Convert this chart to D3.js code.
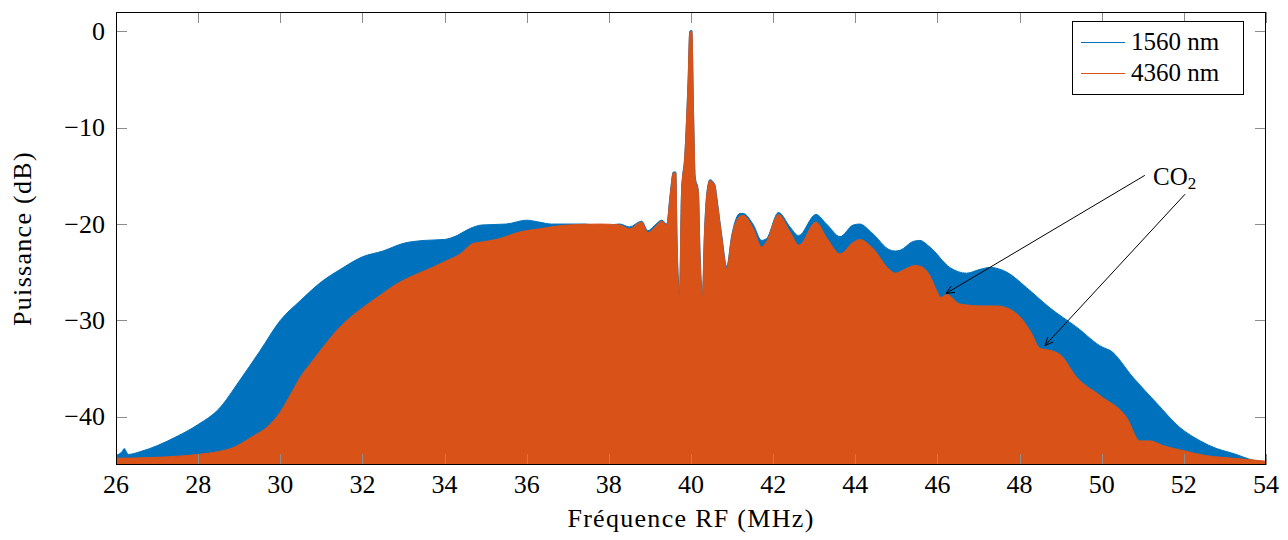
<!DOCTYPE html>
<html>
<head>
<meta charset="utf-8">
<script src="https://cdn.jsdelivr.net/npm/d3@7"></script>
<style>
  html, body { margin: 0; padding: 0; background: #fff; }
  svg { display: block; }
</style>
</head>
<body>
<svg id="chart" width="1288" height="540"></svg>
<script>
// ---- Data (upper envelopes) ----
const seriesNames = ["1560 nm", "4360 nm"];
const seriesColors = ["#0072BD", "#D95319"];

const freq1560 = [26.0, 26.15, 26.2, 26.3, 26.6, 27.0, 27.5, 28.0, 28.5, 29.0, 29.5, 30.0, 30.5, 31.0, 31.5, 32.0, 32.5, 33.0, 33.5, 34.0, 34.3, 34.6, 34.9, 35.5, 36.0, 36.3, 36.6, 37.4, 37.8,
  38.27, 38.5, 38.8, 38.95, 39.1, 39.29, 39.41, 39.49, 39.57, 39.63, 39.66, 39.72, 39.77, 39.85, 39.93, 39.97, 40.02, 40.06, 40.1, 40.18, 40.22, 40.28, 40.32, 40.38, 40.46, 40.58, 40.63, 40.75, 40.87, 40.99,
  41.19, 41.27, 41.52, 41.72, 41.84, 42.13, 42.41, 42.62, 43.04, 43.3, 43.63, 43.95, 44.11, 44.4, 44.85, 44.97, 45.1, 45.41, 45.57, 45.82, 46.3, 46.71, 47.04, 47.28, 47.69, 48.17, 48.74, 49.39, 50.03, 50.2, 50.76, 51.34, 51.9, 52.4, 52.8, 53.2, 53.69, 54.0];
const power1560 = [-44.0, -43.6, -43.3, -43.9, -43.6, -43.0, -42.0, -40.8, -39.2, -36.3, -33.2, -30.0, -27.9, -26.0, -24.6, -23.4, -22.8, -22.0, -21.7, -21.6, -21.2, -20.5, -20.1, -20.0, -19.6, -19.8, -20.0, -20.0, -20.2,
  -20.0, -20.3, -19.7, -20.7, -20.2, -19.6, -20.0, -17.0, -14.6, -14.6, -21.5, -27.0, -16.6, -12.8, -5.0, 0.0, 0.1, -8.0, -15.0, -16.6, -23.0, -27.2, -21.8, -17.0, -15.4, -15.9, -17.3, -21.2, -24.4, -21.2,
  -18.9, -18.9, -20.1, -21.7, -21.5, -18.8, -20.3, -21.2, -19.0, -20.0, -21.3, -20.1, -20.0, -20.9, -22.7, -22.8, -22.7, -21.8, -21.7, -22.4, -24.5, -25.1, -24.7, -24.5, -25.0, -26.6, -28.7, -30.7, -32.8, -33.1, -35.9, -38.6, -41.1, -42.5, -43.3, -43.8, -44.5, -44.7];

const freq4360 = [26.0, 27.0, 28.0, 28.5, 28.85, 29.34, 29.67, 30.0, 30.3, 30.5, 30.75, 31.0, 31.3, 31.7, 32.0, 32.43, 32.8, 33.16, 33.7, 34.0, 34.38, 34.7, 35.0, 35.35, 35.76, 36.3, 37.0, 37.8,
  38.27, 38.5, 38.8, 38.95, 39.1, 39.29, 39.41, 39.49, 39.57, 39.63, 39.66, 39.72, 39.77, 39.85, 39.93, 39.97, 40.02, 40.06, 40.1, 40.18, 40.22, 40.28, 40.32, 40.38, 40.46, 40.58, 40.63, 40.75, 40.87, 40.99,
  41.19, 41.27, 41.52, 41.72, 41.84, 42.13, 42.41, 42.63, 43.04, 43.3, 43.63, 43.95, 44.11, 44.4, 44.85, 44.97, 45.2, 45.45, 45.6, 45.82, 45.98, 46.08, 46.23, 46.55, 47.1, 47.45, 47.93, 48.26, 48.5, 48.6, 48.74, 49.0, 49.39, 49.96, 50.61, 50.93, 51.18, 51.5, 51.98, 52.5, 53.2, 54.0];
const power4360 = [-44.3, -44.2, -43.9, -43.6, -43.2, -42.0, -41.1, -39.5, -37.3, -35.8, -34.4, -33.0, -31.4, -29.7, -28.7, -27.4, -26.3, -25.5, -24.5, -23.9, -23.1, -22.0, -21.8, -21.5, -20.9, -20.5, -20.1, -20.0,
  -20.1, -20.5, -19.8, -20.9, -20.4, -19.7, -20.1, -17.2, -14.7, -14.7, -22.0, -27.6, -16.8, -12.9, -5.1, -0.1, 0.0, -8.2, -15.2, -16.8, -23.5, -27.6, -22.0, -17.2, -15.5, -16.0, -17.5, -21.4, -24.6, -21.4,
  -19.2, -19.1, -20.5, -22.4, -21.8, -19.0, -20.8, -22.2, -19.8, -21.4, -23.1, -21.9, -21.6, -22.4, -24.8, -25.1, -24.7, -24.3, -24.4, -25.4, -26.9, -27.6, -27.3, -28.3, -28.5, -28.5, -29.3, -31.1, -32.9, -33.0, -33.1, -33.6, -35.9, -37.8, -40.1, -42.5, -42.5, -43.0, -43.5, -44.0, -44.3, -44.6];

const xTicks = [26, 28, 30, 32, 34, 36, 38, 40, 42, 44, 46, 48, 50, 52, 54];
const yTicks = [0, -10, -20, -30, -40];
const xLabel = "Fréquence RF (MHz)";
const yLabel = "Puissance (dB)";

// annotation: label position and arrow tips in data units
const annotText = ["CO", "2"];
const annotFrom = [[51.05, -14.95], [52.03, -16.9]];
const annotTo   = [[46.21, -27.2], [48.62, -32.6]];

// ---- Layout ----
const FONT = "'Liberation Serif', 'DejaVu Serif', serif";
const svg = d3.select("#chart").attr("font-family", FONT);
const L = 116, R = 1266, T = 12, B = 465;
const x = d3.scaleLinear().domain([26, 54]).range([L, R]);
const y = d3.scaleLinear().domain([-45, 2]).range([B, T]);

svg.append("defs").append("clipPath").attr("id", "clip")
  .append("rect").attr("x", L).attr("y", T).attr("width", R - L).attr("height", B - T);

const area = d3.area()
  .x(d => x(d[0]))
  .y0(y(-45))
  .y1(d => y(d[1]))
  .curve(d3.curveMonotoneX);

const s1 = freq1560.map((f, i) => [f, power1560[i]]);
const s2 = freq4360.map((f, i) => [f, power4360[i]]);

const g = svg.append("g").attr("clip-path", "url(#clip)");
g.append("path").datum(s1).attr("d", area).attr("fill", seriesColors[0])
  .attr("stroke", seriesColors[0]).attr("stroke-width", 1);
g.append("path").datum(s2).attr("d", area).attr("fill", seriesColors[1])
  .attr("stroke", seriesColors[1]).attr("stroke-width", 1);

// ---- Ticks (inward, all four sides) ----
const tickLen = 11, tickColor = "#8c8c8c";
const tg = svg.append("g").attr("stroke", tickColor).attr("stroke-width", 1);
xTicks.forEach(t => {
  const px = Math.round(x(t)) + 0.5;
  tg.append("line").attr("x1", px).attr("x2", px).attr("y1", B).attr("y2", B - tickLen);
  tg.append("line").attr("x1", px).attr("x2", px).attr("y1", T).attr("y2", T + tickLen);
});
yTicks.forEach(t => {
  const py = Math.round(y(t)) + 0.5;
  tg.append("line").attr("x1", L).attr("x2", L + tickLen).attr("y1", py).attr("y2", py);
  tg.append("line").attr("x1", R).attr("x2", R - tickLen).attr("y1", py).attr("y2", py);
});

// frame
svg.append("rect").attr("x", L + 0.5).attr("y", T + 0.5).attr("width", R - L - 1).attr("height", B - T - 1)
  .attr("fill", "none").attr("stroke", "#000").attr("stroke-width", 1);

// tick labels
const fs = 26;
xTicks.forEach(t => {
  svg.append("text").attr("x", x(t)).attr("y", 493).attr("text-anchor", "middle")
    .attr("font-size", fs).attr("fill", "#000").text(t);
});
yTicks.forEach(t => {
  svg.append("text").attr("x", 105).attr("y", y(t) + 8.5).attr("text-anchor", "end")
    .attr("font-size", fs).attr("fill", "#000").text(t < 0 ? "\u2212" + Math.abs(t) : t);
});

// axis labels
svg.append("text").attr("x", (L + R) / 2).attr("y", 527).attr("text-anchor", "middle")
  .attr("font-size", fs).attr("letter-spacing", 1.3).attr("fill", "#000").text(xLabel);
svg.append("text").attr("transform", `translate(31,${(T + B) / 2}) rotate(-90)`)
  .attr("text-anchor", "middle").attr("font-size", fs).attr("letter-spacing", 1.3).attr("fill", "#000").text(yLabel);

// ---- Legend ----
const lg = svg.append("g");
lg.append("rect").attr("x", 1072.5).attr("y", 21.5).attr("width", 171).attr("height", 73)
  .attr("fill", "#fff").attr("stroke", "#000").attr("stroke-width", 1);
seriesNames.forEach((n, i) => {
  const ly = 42.5 + i * 31;
  lg.append("line").attr("x1", 1081).attr("x2", 1125).attr("y1", ly).attr("y2", ly)
    .attr("stroke", seriesColors[i]).attr("stroke-width", 1.2);
  lg.append("text").attr("x", 1131).attr("y", ly + 7.5).attr("font-size", 25).attr("fill", "#000").text(n);
});

// ---- Annotation ----
const ag = svg.append("g").attr("stroke", "#000").attr("stroke-width", 1).attr("fill", "none");
annotFrom.forEach((a, i) => {
  const x1 = x(a[0]), y1 = y(a[1]), x2 = x(annotTo[i][0]), y2 = y(annotTo[i][1]);
  ag.append("line").attr("x1", x1).attr("y1", y1).attr("x2", x2).attr("y2", y2);
  const ang = Math.atan2(y2 - y1, x2 - x1);
  const hl = 9, ha = 0.42;
  const p1 = [x2 - hl * Math.cos(ang - ha), y2 - hl * Math.sin(ang - ha)];
  const p2 = [x2 - hl * Math.cos(ang + ha), y2 - hl * Math.sin(ang + ha)];
  ag.append("path").attr("d", `M${p1[0]},${p1[1]} L${x2},${y2} L${p2[0]},${p2[1]}`);
});
const at = svg.append("text").attr("x", x(51.25)).attr("y", y(-15.95)).attr("font-size", 25).attr("fill", "#000");
at.append("tspan").text(annotText[0]);
at.append("tspan").attr("font-size", 17).attr("dy", 4).text(annotText[1]);
</script>
</body>
</html>
